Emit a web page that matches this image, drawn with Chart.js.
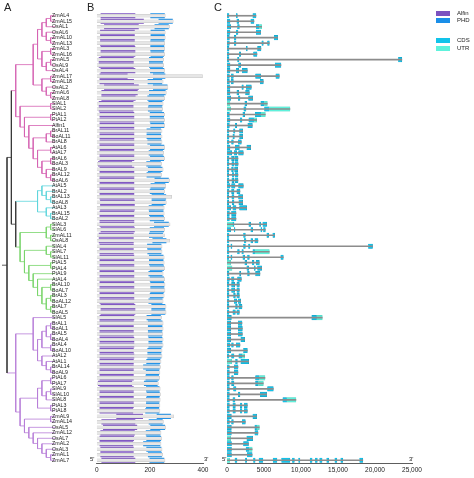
<!DOCTYPE html>
<html><head><meta charset="utf-8">
<script src="https://cdn.jsdelivr.net/npm/chart.js@4/dist/chart.umd.min.js"></script>
<style>
body{margin:0;background:#fff;font-family:"Liberation Sans",Arial,sans-serif;}
#wrap{position:relative;width:474px;height:478px;overflow:hidden;}
canvas{position:absolute;top:0;}
.t{position:absolute;color:#222;white-space:nowrap;}
.L{font-size:11px;}
.s{font-size:6px;}
.box{position:absolute;width:14px;height:5px;}
</style></head><body>
<div id="wrap">
<canvas id="ca" width="57" height="478" style="left:0"></canvas>
<canvas id="cb" width="163" height="478" style="left:52px"></canvas>
<canvas id="cc" width="264" height="478" style="left:210px"></canvas>
<div class="t L" style="left:4px;top:1px">A</div>
<div class="t L" style="left:87px;top:1px">B</div>
<div class="t L" style="left:214px;top:1px">C</div>
<div class="t s" style="left:90px;top:456px">5'</div>
<div class="t s" style="left:204px;top:456px">3'</div>
<div class="t s" style="left:222px;top:456px">5'</div>
<div class="t s" style="left:409px;top:456px">3'</div>
<div class="box" style="left:436px;top:11px;background:#7b52c0"></div>
<div class="t s" style="left:457px;top:10px">Alfin</div>
<div class="box" style="left:436px;top:18px;background:#1a8fe8"></div>
<div class="t s" style="left:457px;top:17px">PHD</div>
<div class="box" style="left:436px;top:38px;background:#12c3ea"></div>
<div class="t s" style="left:457px;top:37px">CDS</div>
<div class="box" style="left:436px;top:46px;background:#5ef2dc"></div>
<div class="t s" style="left:457px;top:45px">UTR</div>
</div>
<script>
const genes=["ZmAL4","ZmAL15","OsAL1","OsAL6","ZmAL10","ZmAL13","ZmAL3","ZmAL16","ZmAL5","OsAL9","OsAL4","ZmAL17","ZmAL18","OsAL2","ZmAL6","ZmAL8","SlAL1","SlAL2","PtAL1","PtAL2","Alfin1","BrAL11","BoAL11","BrAL8","AtAL6","AtAL7","BrAL6","BoAL3","BrAL9","BrAL12","BoAL6","AtAL5","BrAL2","BrAL13","BoAL8","AtAL3","BrAL15","BoAL2","SlAL3","SlAL6","ZmAL11","OsAL8","SlAL4","SlAL7","SlAL11","PtAL5","PtAL4","PtAL9","AtAL4","BrAL10","BoAL7","BrAL3","BoAL12","BrAL7","BoAL5","SlAL5","BrAL1","BoAL1","BrAL5","BoAL4","BrAL4","BoAL10","AtAL2","AtAL1","BrAL14","BoAL9","PtAL6","PtAL7","SlAL9","SlAL10","SlAL8","PtAL3","PtAL8","ZmAL9","ZmAL14","OsAL5","ZmAL12","OsAL7","ZmAL2","OsAL3","ZmAL1","ZmAL7"];
const alfinStart=[16,16,29,14,14,14,16,16,9,9,16,12,12,29,19,19,9,9,12,12,12,12,12,12,12,12,12,6,12,12,12,12,12,12,14,14,12,12,12,16,9,9,12,12,12,12,12,12,12,12,12,12,12,16,16,12,12,12,12,12,12,12,12,12,12,12,12,6,12,12,12,12,12,75,19,25,15,12,12,15,15,19];
const alfinEnd=[144,176,157,142,142,142,144,144,138,138,144,115,139,157,153,145,137,137,140,140,140,140,140,140,140,140,140,132,140,140,140,140,140,140,142,142,140,140,140,142,138,138,138,138,140,140,140,140,140,140,140,140,140,144,144,140,138,138,138,140,140,138,140,138,138,138,138,132,138,138,138,138,136,173,144,151,142,139,136,138,138,144];
const phdStart=[203,234,219,204,204,203,203,204,198,198,202,213,193,213,198,192,196,194,201,201,203,189,189,192,202,197,202,188,194,189,219,204,201,208,208,197,198,201,217,201,198,211,191,192,198,198,201,196,201,203,203,201,196,207,207,189,194,194,194,196,196,192,192,188,176,186,185,179,187,189,187,187,184,227,197,203,186,188,176,188,194,200];
const phdEnd=[255,285,270,255,255,253,253,252,248,248,253,257,245,265,258,252,246,245,252,252,253,241,241,242,253,248,252,240,246,240,270,257,252,260,258,250,250,252,270,252,248,261,242,242,250,250,252,246,252,253,253,250,246,257,257,240,246,246,245,246,246,242,242,238,236,234,233,228,235,236,235,234,234,278,247,256,238,241,238,242,244,253];
const protLen=[258,288,274,258,258,256,256,256,252,252,256,398,250,268,262,256,250,248,256,256,256,246,246,246,256,252,256,244,250,244,274,260,256,282,262,254,254,256,276,256,255,275,246,246,254,254,256,250,256,257,257,254,250,261,261,244,250,250,249,250,250,246,246,242,240,238,237,232,239,240,239,238,238,290,251,260,242,245,242,246,248,257];
const geneLen=[3915,3645,4680,4545,6840,5715,4590,4050,23625,7290,2745,7065,4905,3285,3015,3465,5445,8505,5175,4005,3420,2115,2115,1935,3195,2200,1485,1500,1450,1480,1485,2200,1755,2115,2115,2655,1215,1215,5355,5175,6435,4185,19665,5715,7605,4365,4680,4455,1935,1665,1665,1665,1845,2025,1665,12870,2025,2070,2070,2385,1755,2745,2385,2930,1485,1485,5130,4905,6255,5355,9315,2745,2745,4005,2475,4365,4185,3465,2900,3400,3400,18350];
const cdsExons=[
[[0,270],[1215,1400],[3465,3915]],[[0,405],[1305,1575],[3195,3645]],[[0,495],[1395,1665],[3915,4365]],[[0,405],[1215,1485],[3915,4545]],
[[0,315],[945,1215],[6345,6840]],[[0,315],[945,1215],[4680,4905],[5445,5715]],[[0,270],[2565,2745],[4095,4590]],[[0,270],[1620,1845],[3555,4050]],
[[0,270],[1395,1620],[23130,23625]],[[0,405],[1530,1845],[6480,7290]],[[0,405],[1215,1575],[2025,2745]],[[0,315],[540,855],[3825,4545],[6570,7065]],
[[0,315],[540,855],[4455,4905]],[[0,405],[1980,2205],[2565,3285]],[[0,405],[1305,1575],[2475,3015]],[[0,495],[1485,1755],[2880,3465]],
[[2385,2655],[4545,5040]],[[2250,2565],[5040,5715]],[[0,315],[2115,2385],[3780,4600]],[[0,405],[1755,2025],[2925,3600]],
[[0,315],[1080,1305],[2790,3420]],[[0,270],[855,1080],[1665,2115]],[[0,270],[765,990],[1665,2115]],[[0,270],[585,855],[1485,1935]],
[[0,405],[1080,1665],[2655,3195]],[[0,630],[945,1305],[1530,2200]],[[0,270],[585,900],[1000,1485]],[[0,270],[630,945],[1050,1500]],
[[0,270],[585,855],[990,1450]],[[0,230],[680,945],[1080,1480]],[[0,270],[630,900],[1030,1485]],[[0,405],[585,1080],[1530,2200]],
[[0,270],[585,945],[1305,1755]],[[0,230],[630,945],[1530,2115]],[[0,230],[675,945],[1575,2115]],[[0,495],[765,1215],[1665,2655]],
[[0,315],[585,1215]],[[0,315],[585,1215]],
[[765,945],[2925,3195],[4365,4545],[4815,5355]],[[0,495],[945,1080],[3195,3465],[4545,4725],[4905,5175]],[[0,270],[2205,2475],[5355,5625],[6165,6435]],[[0,270],[2295,2565],[3195,3465],[3735,4185]],
[[0,270],[495,675],[2205,2475],[2880,3105],[19080,19665]],[[0,270],[1395,1665],[1980,2205],[3465,3735]],[[0,270],[495,675],[2115,2385],[2745,3015],[7245,7605]],[[2385,2655],[3375,3645],[3915,4365]],
[[2655,2925],[3645,3825],[4095,4680]],[[0,270],[1665,1845],[2745,3015],[3825,4455]],[[0,315],[585,945],[1395,1935]],[[0,270],[585,1035],[1305,1665]],
[[0,270],[585,1035],[1305,1665]],[[0,270],[855,1125],[1305,1665]],[[0,270],[945,1305],[1485,1845]],[[0,270],[1125,1395],[1575,2025]],
[[0,270],[765,1125],[1305,1665]],[[0,585],[11430,12105]],[[0,495],[1485,2025]],[[0,495],[1485,2070]],
[[0,495],[1485,2070]],[[0,495],[1845,2385]],[[0,405],[585,855],[1215,1755]],[[0,495],[2205,2745]],
[[0,270],[585,945],[1575,2000]],[[1125,1395],[1845,2930]],[[0,315],[945,1485]],[[0,315],[945,1485]],
[[0,315],[585,855],[3825,4365]],[[0,315],[585,945],[3825,4230]],[[0,315],[855,1215],[5445,6255]],[[0,315],[1485,1755],[4455,5355]],
[[0,315],[765,1080],[7515,8055]],[[0,315],[765,1125],[1755,2025],[2295,2745]],[[0,315],[765,1125],[1755,2025],[2295,2745]],[[0,585],[3465,4005]],
[[0,315],[585,855],[2025,2475]],[[0,585],[3735,4000]],[[0,585],[3735,4185]],[[2655,3465]],
[[0,600],[2200,2900]],[[0,600],[2550,3000]],[[0,600],[2700,3400]],
[[1050,1350],[2450,2650],[3550,3800],[4300,4850],[6200,6750],[7350,8500],[8800,9100],[9650,9850],[11200,11500],[11900,12200],[12500,12850],[13450,13750],[14550,14850],[15350,15650],[17900,18350]]
];
const utrSegs={2:[[4365,4680]],16:[[0,405],[5040,5445]],17:[[0,495],[5715,8505]],18:[[4600,5175]],19:[[3600,4005]],38:[[0,765]],43:[[3735,5715]],45:[[0,495]],46:[[0,675]],55:[[12105,12870]],62:[[2000,2385]],63:[[0,630]],66:[[4365,5130]],67:[[4230,4905]],70:[[8055,9315]],75:[[4000,4365]],77:[[0,495]],79:[[3000,3400]],81:[[0,360]]};
const grassA=[[[[0,1],2],[3,[4,5]]],[[6,7],[[8,9],10]]];
const grassB=[[11,12],[13,[14,15]]];
const dicotPink=[[16,17],[[18,19],[20,[[[21,22],23],[[24,25],[[26,27],[28,[29,30]]]]]]]];
const cladePink=[[grassA,grassB],dicotPink];
const cladeCyan=[[31,[32,[33,34]]],[35,[36,37]]];
const cladeGreen=[[[38,39],[40,41]],[[42,[43,44]],[[45,46],[47,[48,[[49,50],[[51,52],[53,54]]]]]]]];
const purpleA=[55,[[[[56,57],[58,59]],[60,61]],[62,[63,[64,65]]]]];
const purpleB=[[[66,67],[[68,69],70]],[71,72]];
const purpleC=[[73,74],[75,[76,[77,[78,[79,[80,81]]]]]]];
const cladePurple=[purpleA,[purpleB,purpleC]];
const treeTopology=[[cladePink,[cladeCyan,cladeGreen]],cladePurple];
const cladeRanges=[[0,30,'#d562b2'],[31,37,'#5ed6dc'],[38,54,'#79d66b'],[55,81,'#b77ed8']];

const TOP=13, XH=15;
function height(n){return Array.isArray(n)?1+Math.max(...n.map(height)):0;}
function leaves(n){return Array.isArray(n)?n.flatMap(leaves):[n];}
function colorOf(n){const l=leaves(n);for(const c of cladeRanges){if(l.every(v=>v>=c[0]&&v<=c[1]))return c[2];}return '#333';}
const H=height(treeTopology), leafX=55, rootX=7, step=(leafX-rootX)/H;
const segs={};
function add(col,pts){(segs[col]=segs[col]||[]).push(...pts,{x:null,y:null});}
function lay(n){
  if(!Array.isArray(n))return {x:leafX,y:n};
  const ch=n.map(lay);
  const x=leafX-height(n)*step;
  const y=(ch[0].y+ch[ch.length-1].y)/2;
  add(colorOf(n),[{x:x,y:ch[0].y},{x:x,y:ch[ch.length-1].y}]);
  n.forEach((c,i)=>add(colorOf(c),[{x:x,y:ch[i].y},{x:ch[i].x,y:ch[i].y}]));
  return {x,y};
}
const r=lay(treeTopology);
add('#333',[{x:rootX-5,y:r.y},{x:rootX,y:r.y}]);
new Chart(document.getElementById('ca'),{type:'line',
 data:{datasets:Object.keys(segs).map(c=>({data:segs[c],borderColor:c,borderWidth:0.8,pointRadius:0,spanGaps:false,tension:0}))},
 options:{responsive:false,animation:false,layout:{padding:{top:TOP,bottom:XH,left:0,right:0}},
  plugins:{legend:{display:false},tooltip:{enabled:false}},
  scales:{x:{type:'linear',min:0,max:57,display:false},y:{type:'linear',min:-0.5,max:genes.length-0.5,reverse:true,display:false}}}});
const axisFont={size:6.5,family:'Liberation Sans'};
const xGrid={display:false,drawTicks:false,tickLength:0};
new Chart(document.getElementById('cb'),{type:'bar',
 data:{labels:genes,datasets:[
  {data:protLen.map(l=>[0,l]),backgroundColor:'#e6e6e6',borderColor:'#c4c4c4',borderWidth:0.5,barThickness:3},
  {data:alfinStart.map((s,i)=>[s,alfinEnd[i]]),backgroundColor:'#7b52c0',borderWidth:0,barThickness:4.5},
  {data:phdStart.map((s,i)=>[s,phdEnd[i]]),backgroundColor:'#1a8fe8',borderWidth:0,barThickness:4.5}]},
 options:{indexAxis:'y',responsive:false,animation:false,layout:{padding:{top:TOP,right:12,left:0,bottom:0}},
  datasets:{bar:{grouped:false}},
  plugins:{legend:{display:false},tooltip:{enabled:false}},
  scales:{
   y:{type:'category',offset:true,grid:{display:false},border:{display:false},afterFit:s=>{s.width=44.7;},
      ticks:{autoSkip:false,crossAlign:'far',padding:0,color:'#222',font:{size:5.3,family:'Liberation Sans'}}},
   x:{type:'linear',min:0,max:400,grid:xGrid,border:{color:'#333',width:0.8},afterFit:s=>{s.height=XH;},
      ticks:{stepSize:200,color:'#222',padding:3,font:axisFont}}}}});
const cdsData=[],utrData=[];
cdsExons.forEach((ex,i)=>ex.forEach(e=>cdsData.push({y:genes[i],x:e})));
Object.keys(utrSegs).forEach(k=>utrSegs[k].forEach(e=>utrData.push({y:genes[k],x:e})));
new Chart(document.getElementById('cc'),{type:'bar',
 data:{labels:genes,datasets:[
  {data:genes.map((g,i)=>({y:g,x:[0,geneLen[i]]})),backgroundColor:'#8c8c8c',borderWidth:0,barThickness:1},
  {data:utrData,backgroundColor:'#5ef2dc',borderColor:'#49cdbd',borderWidth:0.4,barThickness:4.5},
  {data:cdsData,backgroundColor:'#12c3ea',borderColor:'#1494b8',borderWidth:0.4,barThickness:4.5}]},
 options:{indexAxis:'y',responsive:false,animation:false,layout:{padding:{top:TOP,right:62,left:17,bottom:0}},
  datasets:{bar:{grouped:false}},
  plugins:{legend:{display:false},tooltip:{enabled:false}},
  scales:{
   y:{type:'category',offset:true,display:false},
   x:{type:'linear',min:0,max:25000,grid:xGrid,border:{color:'#333',width:0.8},afterFit:s=>{s.height=XH;},
      ticks:{stepSize:5000,color:'#222',padding:3,font:axisFont,callback:v=>v>=10000?v.toLocaleString('en-US'):String(v)}}}}});
</script>
</body></html>
